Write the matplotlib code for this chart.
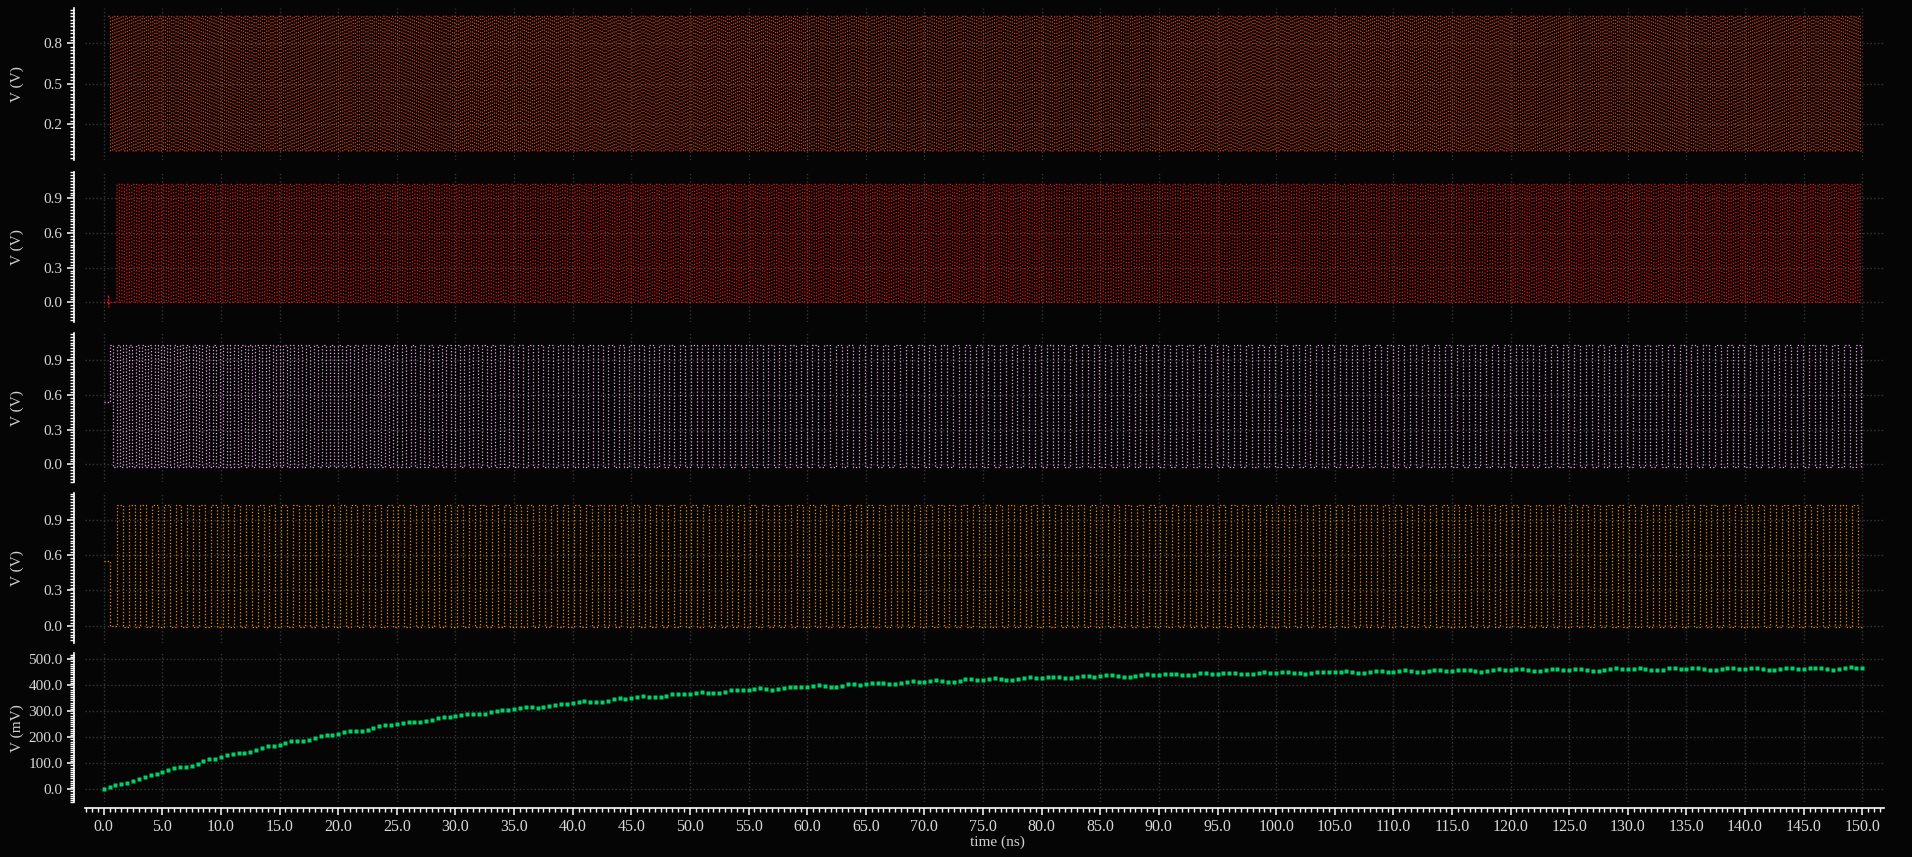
import numpy as np
import matplotlib.pyplot as plt
from matplotlib.ticker import MultipleLocator, AutoMinorLocator, FormatStrFormatter

plt.rcParams['font.family'] = ['Liberation Serif', 'DejaVu Serif']

T_END = 150.0

# panel 1 (orange-red): dense switching, segment bounds (ns) and half periods (ns)
p1_levels = [0.0, 1.0]
p1_seg = [0.4, 30, 60, 90, 120, 150]
p1_half = [0.18, 0.17, 0.19, 0.17, 0.18]

# panel 2 (red)
p2_levels = [0.0, 1.02]
p2_seg = [1.13, 40, 80, 120, 150]
p2_half = [0.21, 0.2, 0.22, 0.2]
p2_init_t = [0.0, 0.35, 0.38, 0.42, 0.45]
p2_init_v = [0.0, 0.0, 0.06, -0.04, 0.0]

# panel 3 (pink): oscillator, fast at start then settles
p3_levels = [-0.02, 1.03]
p3_seg = [0.55, 8, 16, 25, 35, 48, 60, 150]
p3_half = [0.27, 0.3, 0.34, 0.38, 0.43, 0.47, 0.5]
p3_init_t = [0.0]
p3_init_v = [0.54]

# panel 4 (orange): reference clock
p4_levels = [-0.01, 1.03]
p4_seg = [1.13, 150]
p4_half = [0.5]
p4_init_t = [0.0, 0.5]
p4_init_v = [0.55, 0.0]

# panel 5 (green): control voltage in mV, one sample every 0.5 ns
cp_mv = [
    0, 8, 15, 21, 24, 30, 39, 49, 55, 59,
    66, 75, 81, 84, 86, 91, 99, 109, 116, 117,
    123, 131, 137, 139, 140, 144, 151, 160, 166, 167,
    172, 179, 184, 186, 186, 189, 196, 204, 210, 210,
    214, 221, 225, 226, 225, 228, 235, 242, 247, 246,
    250, 256, 260, 260, 259, 262, 268, 275, 279, 278,
    281, 287, 290, 290, 288, 290, 296, 302, 306, 304,
    307, 312, 316, 315, 313, 315, 320, 326, 329, 328,
    330, 335, 338, 337, 335, 336, 341, 347, 350, 348,
    350, 355, 357, 356, 354, 355, 359, 365, 368, 365,
    367, 371, 374, 372, 370, 370, 374, 380, 382, 380,
    381, 385, 388, 386, 383, 384, 388, 393, 395, 393,
    394, 398, 400, 398, 395, 395, 399, 404, 406, 403,
    404, 408, 410, 408, 405, 405, 409, 414, 416, 413,
    414, 418, 420, 417, 414, 414, 418, 423, 424, 421,
    422, 426, 427, 425, 421, 421, 425, 429, 431, 427,
    428, 432, 433, 430, 427, 427, 431, 435, 437, 433,
    434, 438, 439, 437, 433, 433, 436, 441, 442, 439,
    439, 443, 444, 442, 438, 438, 441, 446, 447, 444,
    444, 447, 449, 446, 442, 442, 445, 449, 450, 447,
    447, 450, 452, 449, 446, 445, 448, 452, 453, 450,
    450, 453, 455, 452, 449, 448, 451, 455, 456, 453,
    453, 456, 458, 455, 452, 451, 454, 458, 459, 456,
    456, 459, 460, 457, 454, 453, 456, 460, 461, 458,
    458, 461, 462, 459, 455, 454, 458, 462, 463, 459,
    459, 462, 463, 460, 456, 456, 459, 463, 465, 461,
    461, 464, 465, 462, 458, 457, 460, 465, 466, 462,
    462, 465, 466, 463, 459, 458, 462, 466, 467, 463,
    463, 466, 467, 464, 460, 459, 463, 467, 468, 464,
    464, 467, 468, 465, 461, 460, 464, 468, 469, 465,
    465,
]
cp_t = np.arange(len(cp_mv)) * 0.5

BG = '#050505'


def square(seg, half, levels, init_t=(), init_v=()):
    # walk through the segments keeping the edge timing continuous
    edges = []
    t = seg[0]
    for b, h in zip(seg[1:], half):
        while t < b:
            edges.append(t)
            t += h
    vals = np.where(np.arange(len(edges)) % 2 == 0, levels[1], levels[0])
    t = np.concatenate([init_t, edges, [T_END]])
    v = np.concatenate([init_v, vals, [vals[-1]]])
    return t, v


fig = plt.figure(figsize=(19.12, 8.57), dpi=100, facecolor=BG)
H = 857.0
L, R = 85 / 1912, 1884 / 1912
boxes = [(8, 160), (171.7, 322.3), (333.3, 482.3), (493.3, 643), (653.3, 802.3)]
ylims = [(-0.068, 1.062), (-0.173, 1.130), (-0.155, 1.130), (-0.147, 1.127), (-50, 523)]
axes = []
for (top, bot), yl in zip(boxes, ylims):
    ax = fig.add_axes([L, 1 - bot / H, R - L, (bot - top) / H], facecolor=BG,
                      sharex=axes[0] if axes else None)
    ax.set_ylim(yl)
    axes.append(ax)

waves = [
    square(p1_seg, p1_half, p1_levels),
    square(p2_seg, p2_half, p2_levels, p2_init_t, p2_init_v),
    square(p3_seg, p3_half, p3_levels, p3_init_t, p3_init_v),
    square(p4_seg, p4_half, p4_levels, p4_init_t, p4_init_v),
]
colors = ['#e0401c', '#ff1010', '#e8a8e8', '#ff8c00']
for ax, (t, v), c in zip(axes, waves, colors):
    ax.plot(t, v, color=c, lw=0.9, ls=':', drawstyle='steps-post')

axes[4].plot(cp_t, cp_mv, ls='none', marker='s', ms=2.6, color='#00d26a', mec='none')

axes[0].set_xlim(-1.6, 151.85)
yticks = [[0.2, 0.5, 0.8], [0, 0.3, 0.6, 0.9], [0, 0.3, 0.6, 0.9], [0, 0.3, 0.6, 0.9],
          [0, 100, 200, 300, 400, 500]]
for i, ax in enumerate(axes):
    ax.set_axisbelow(True)
    for s in ['top', 'right', 'bottom']:
        ax.spines[s].set_visible(False)
    ax.spines['left'].set_color('white')
    ax.spines['left'].set_linewidth(1.2)
    ax.spines['left'].set_position(('outward', 8))
    ax.set_yticks(yticks[i])
    ax.yaxis.set_minor_locator(AutoMinorLocator(12))
    ax.yaxis.set_major_formatter(FormatStrFormatter('%.1f'))
    ax.xaxis.set_major_locator(MultipleLocator(5))
    ax.xaxis.set_minor_locator(MultipleLocator(0.5))
    ax.tick_params(axis='y', which='major', length=5, width=1.1, color='white',
                   labelcolor='#d8d8d8', labelsize=11, pad=3)
    ax.tick_params(axis='y', which='minor', length=3, width=1.0, color='white')
    ax.grid(True, which='major', color='#363636', ls=':', lw=1.0)
    ax.set_ylabel('V (mV)' if i == 4 else 'V (V)', color='#d0d0d0', fontsize=11)
    ax.yaxis.set_label_coords(-0.034, 0.5)
    if i < 4:
        ax.tick_params(axis='x', which='both', bottom=False, labelbottom=False)

ax = axes[4]
ax.spines['bottom'].set_visible(True)
ax.spines['bottom'].set_color('white')
ax.spines['bottom'].set_linewidth(1.2)
ax.spines['bottom'].set_position(('outward', 4.3))
ax.xaxis.set_major_formatter(FormatStrFormatter('%.1f'))
ax.tick_params(axis='x', which='major', length=5, width=1.1, color='white',
               labelcolor='#d8d8d8', labelsize=11.5, pad=3)
ax.tick_params(axis='x', which='minor', length=3.2, width=1.0, color='white')
ax.set_xlabel('time (ns)', color='#d0d0d0', fontsize=11)
ax.xaxis.set_label_coords(0.507, -0.225)

fig.savefig('out.png', dpi=100, facecolor=BG)
